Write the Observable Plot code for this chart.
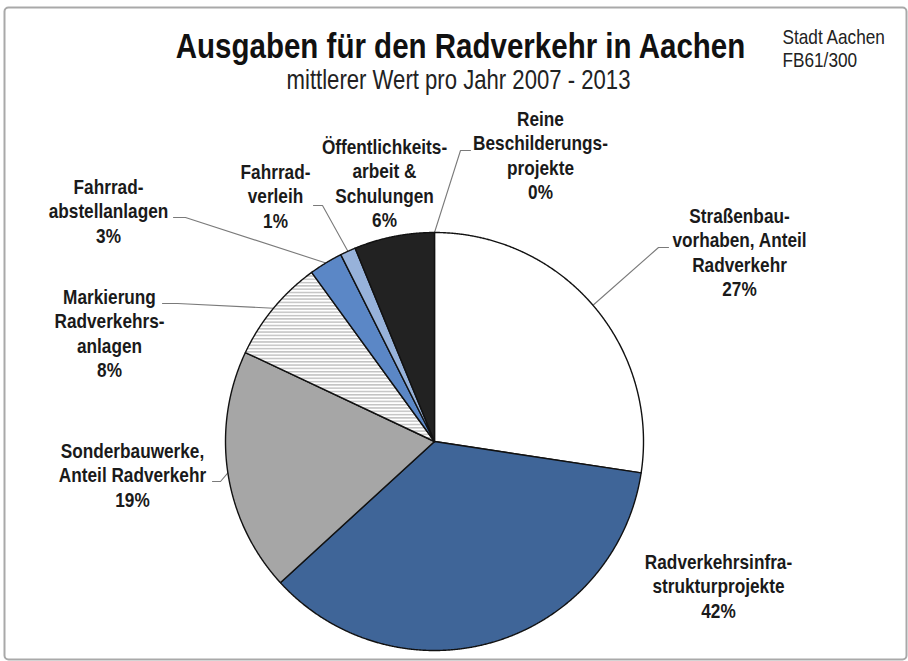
<!DOCTYPE html>
<html>
<head>
<meta charset="utf-8">
<script src="https://cdn.jsdelivr.net/npm/d3@7"></script>
<script src="https://cdn.jsdelivr.net/npm/@observablehq/plot@0.6"></script>
<style>
  html, body { margin: 0; padding: 0; background: #ffffff; }
  #chart svg { display: block; }
</style>
</head>
<body>
<div id="chart"></div>
<script>
// ---------- data ----------
const titleText = "Ausgaben für den Radverkehr in Aachen";
const subtitleText = "mittlerer Wert pro Jahr 2007 - 2013";
const sourceLines = ["Stadt Aachen", "FB61/300"];

const categories = [
  "Straßenbau-\nvorhaben, Anteil\nRadverkehr",
  "Radverkehrsinfra-\nstrukturprojekte",
  "Sonderbauwerke,\nAnteil Radverkehr",
  "Markierung\nRadverkehrs-\nanlagen",
  "Fahrrad-\nabstellanlagen",
  "Fahrrad-\nverleih",
  "Öffentlichkeits-\narbeit &\nSchulungen",
  "Reine\nBeschilderungs-\nprojekte"
];
// slice sizes as drawn in the picture (share of the full circle, %)
const shares = [27.4, 35.8, 18.8, 8.0, 2.6, 1.2, 6.2, 0];
// percentages as printed in the labels
const shareLabels = ["27%", "42%", "19%", "8%", "3%", "1%", "6%", "0%"];

// ---------- styles & layout ----------
const W = 908, H = 661;
const FONT = '"Liberation Sans","Arial",sans-serif';
const NARROW = 0.82; // horizontal condensing (Arial Narrow look)
const sliceFills = ["#ffffff", "#3f6598", "#a6a6a6", "url(#hatch)", "#5b87c6", "#97b2da", "#222222", "#ffffff"];
const pie = {cx: 434, cy: 441, r: 209};
const labelFont = 21, labelLH = 1.17;
// first-line baseline of each label block, and leader elbow points (label side)
const labelLayout = [
  {x: 739, y: 222, elbow: [[668, 247], [658, 247]]},
  {x: 718, y: 568, elbow: null},
  {x: 132, y: 457, elbow: [[212, 481], [220, 481]]},
  {x: 109, y: 303, elbow: [[162, 303], [177, 303]]},
  {x: 108, y: 193, elbow: [[173, 217], [185, 217]]},
  {x: 275, y: 178, elbow: [[313, 205], [322, 205]]},
  {x: 384, y: 153, elbow: null},
  {x: 540, y: 125, elbow: [[470, 150], [460, 150]]}
];

// ---------- geometry from data ----------
const arcs = d3.pie().sort(null).value(d => d)(shares);
const slices = arcs.map((a, i) => {
  const pts = [[pie.cx, pie.cy]];
  const n = Math.max(2, Math.ceil((a.endAngle - a.startAngle) / 0.004));
  for (let k = 0; k <= n; ++k) {
    const t = a.startAngle + (a.endAngle - a.startAngle) * k / n;
    pts.push([pie.cx + pie.r * Math.sin(t), pie.cy - pie.r * Math.cos(t)]);
  }
  pts.push([pie.cx, pie.cy]);
  return {i, pts, value: a.value, mid: (a.startAngle + a.endAngle) / 2};
});

const leaderPts = [];
labelLayout.forEach((L, i) => {
  if (!L.elbow) return;
  const m = slices[i].mid;
  const edge = [pie.cx + pie.r * Math.sin(m), pie.cy - pie.r * Math.cos(m)];
  [...L.elbow, edge].forEach(p => leaderPts.push({id: i, x: p[0], y: p[1]}));
});

const labelData = categories.map((c, i) => ({
  text: c + "\n" + shareLabels[i],
  x: labelLayout[i].x,
  y: labelLayout[i].y
}));

const marks = [
  Plot.frame({stroke: "#a9a9a9", strokeWidth: 2, rx: 4, fill: "#ffffff"}),
  Plot.line(leaderPts, {x: "x", y: "y", z: "id", stroke: "#7a7a7a", strokeWidth: 1.1, curve: "linear"}),
  ...slices.filter(s => s.value > 0).map(s =>
    Plot.line(s.pts, {x: d => d[0], y: d => d[1], fill: sliceFills[s.i], stroke: "#111111",
      strokeWidth: 1.4, strokeLinejoin: "round", curve: "linear"})
  ),
  Plot.text(labelData, {x: "x", y: "y", text: "text", fontSize: labelFont, fontWeight: "bold",
    fontFamily: FONT, fill: "#1a1a1a", textAnchor: "middle", lineAnchor: "top",
    lineHeight: labelLH, dy: -0.71 * labelLH * labelFont}),
  Plot.text([titleText], {x: () => 460, y: () => 57, text: d => d, fontSize: 36, fontWeight: "bold",
    fontFamily: FONT, fill: "#111111", textAnchor: "middle", lineAnchor: "bottom"}),
  Plot.text([subtitleText], {x: () => 458, y: () => 88, text: d => d, fontSize: 27,
    fontFamily: FONT, fill: "#222222", textAnchor: "middle", lineAnchor: "bottom"}),
  Plot.text([sourceLines.join("\n")], {x: () => 782, y: () => 43, text: d => d, fontSize: 21,
    fontFamily: FONT, fill: "#222222", textAnchor: "start", lineAnchor: "top",
    lineHeight: 1.14, dy: -0.71 * 1.14 * 21})
];

const chart = Plot.plot({
  width: W,
  height: H,
  marginLeft: 4, marginTop: 7, marginRight: 2, marginBottom: 2,
  x: {domain: [0, W], range: [0, W], axis: null},
  y: {domain: [0, H], range: [0, H], axis: null},
  style: {background: "#ffffff", fontFamily: FONT},
  marks
});

// condense all text horizontally around its anchor (narrow typeface look)
d3.select(chart).selectAll("text").each(function () {
  const t = this.getAttribute("transform") || "";
  this.setAttribute("transform", (t + ` scale(${NARROW},1)`).trim());
});

// hatch pattern for the "Markierung" slice
const defs = d3.select(chart).insert("defs", ":first-child");
const pat = defs.append("pattern").attr("id", "hatch").attr("patternUnits", "userSpaceOnUse")
  .attr("width", 8).attr("height", 3.3);
pat.append("rect").attr("width", 8).attr("height", 3.3).attr("fill", "#ffffff");
pat.append("line").attr("x1", 0).attr("x2", 8).attr("y1", 1.6).attr("y2", 1.6)
  .attr("stroke", "#9a9a9a").attr("stroke-width", 0.9);

document.getElementById("chart").appendChild(chart);
</script>
</body>
</html>
